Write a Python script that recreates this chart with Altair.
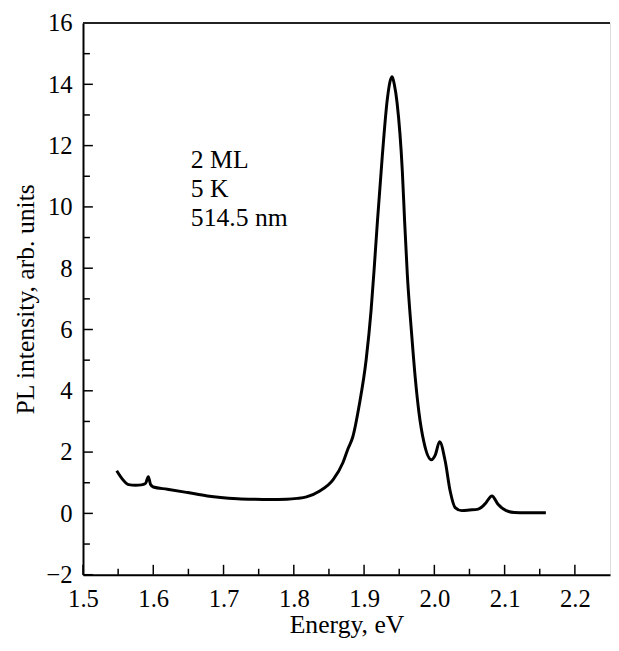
import altair as alt
import pandas as pd

energy = [1.548, 1.555, 1.565, 1.575, 1.583, 1.589, 1.593, 1.596, 1.600, 1.620,
          1.649, 1.677, 1.696, 1.720, 1.743, 1.765, 1.790, 1.805, 1.818, 1.837,
          1.856, 1.870, 1.877, 1.884, 1.893, 1.903, 1.910, 1.9145, 1.919, 1.926,
          1.933, 1.937, 1.940, 1.943, 1.947, 1.9545, 1.9577, 1.9615, 1.9676, 1.973,
          1.978, 1.985, 1.9958, 2.0014, 2.0075, 2.0155, 2.0225, 2.0296, 2.039, 2.050,
          2.0624, 2.0718, 2.082, 2.0906, 2.1023, 2.114, 2.130, 2.1587]
intensity = [1.39, 1.15, 0.94, 0.92, 0.93, 0.98, 1.20, 0.95, 0.86, 0.79,
             0.68, 0.57, 0.52, 0.48, 0.46, 0.45, 0.46, 0.49, 0.54, 0.73,
             1.10, 1.66, 2.10, 2.50, 3.52, 5.02, 6.63, 8.03, 9.53, 11.68,
             13.50, 14.10, 14.25, 14.00, 13.39, 11.14, 9.53, 7.81, 5.88, 4.38,
             3.31, 2.34, 1.75, 1.91, 2.34, 1.70, 0.73, 0.19, 0.09, 0.11,
             0.14, 0.30, 0.57, 0.30, 0.09, 0.03, 0.02, 0.02]

x_major = [1.5, 1.6, 1.7, 1.8, 1.9, 2.0, 2.1, 2.2]
x_minor = [1.55, 1.65, 1.75, 1.85, 1.95, 2.05, 2.15]
y_major = [-2, 0, 2, 4, 6, 8, 10, 12, 14, 16]
y_minor = [-1, 1, 3, 5, 7, 9, 11, 13, 15]

note_text = "2 ML\n5 K\n514.5 nm"
note_x = [1.6535]
note_y = [11.27]

FONT = "Liberation Serif"
W, H = 534, 559

xs = alt.Scale(domain=[1.5, 2.25], nice=False, zero=False)
ys = alt.Scale(domain=[-2, 16], nice=False, zero=False)

df = pd.DataFrame({"E": energy, "I": intensity})

common = dict(ticks=False, tickSize=0, grid=False, domainColor="black", domainWidth=2,
              labelFont=FONT, labelFontSize=25, labelColor="black", labelFlush=False,
              labelOverlap=False, titleFont=FONT, titleFontSize=26,
              titleFontWeight="normal", titleColor="black")

line = alt.Chart(df).mark_line(color="black", strokeWidth=3, interpolate="monotone").encode(
    x=alt.X("E:Q", scale=xs, axis=alt.Axis(
        title="Energy, eV", values=x_major, format=".1f", labelPadding=12,
        titleBaseline="alphabetic", titleY=59, **common)),
    y=alt.Y("I:Q", scale=ys, axis=alt.Axis(
        title="PL intensity, arb. units", values=y_major, format="d", labelPadding=11,
        titlePadding=8, **common)),
)

def xticks(vals, length):
    return alt.Chart(pd.DataFrame({"v": vals})).mark_rule(color="black", strokeWidth=1.5).encode(
        x=alt.X("v:Q", scale=xs), y=alt.value(H), y2=alt.value(H - length))

def yticks(vals, length):
    return alt.Chart(pd.DataFrame({"v": vals})).mark_rule(color="black", strokeWidth=1.5).encode(
        y=alt.Y("v:Q", scale=ys), x=alt.value(0), x2=alt.value(length))

top_border = alt.Chart(pd.DataFrame({"v": [0]})).mark_rule(color="#222", strokeWidth=2).encode(
    x=alt.value(0), x2=alt.value(W), y=alt.value(0))

note = alt.Chart(pd.DataFrame({"x": note_x, "y": note_y, "t": [note_text]})).mark_text(
    align="left", baseline="alphabetic", font=FONT, fontSize=26, color="black",
    lineBreak="\n", lineHeight=29.5).encode(
    x=alt.X("x:Q", scale=xs), y=alt.Y("y:Q", scale=ys), text="t:N")

chart = alt.layer(
    line, xticks(x_major, 10), xticks(x_minor, 6), yticks(y_major, 10), yticks(y_minor, 7),
    top_border, note
).properties(
    width=W, height=H,
    autosize=alt.AutoSizeParams(type="none"),
    padding={"left": 76, "top": 11, "right": 1, "bottom": 65},
).configure_view(stroke="#888", strokeWidth=1).configure(background="white")

chart.save("out.html", embed_options={"renderer": "svg", "actions": False})
